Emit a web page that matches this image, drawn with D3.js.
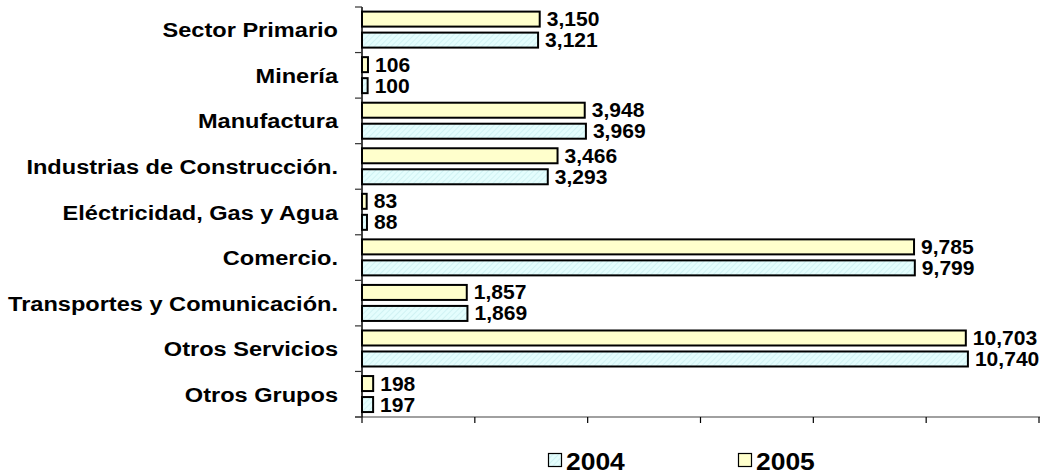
<!DOCTYPE html>
<html>
<head>
<meta charset="utf-8">
<script src="https://cdn.jsdelivr.net/npm/d3@7"></script>
<style>
  html, body { margin: 0; padding: 0; background: #fff; }
  svg { display: block; }
  text { font-family: "Liberation Sans", Arial, sans-serif; font-weight: bold; fill: #000; }
</style>
</head>
<body>
<script>
const categories = [
  "Sector Primario",
  "Minería",
  "Manufactura",
  "Industrias de Construcción.",
  "Eléctricidad, Gas y Agua",
  "Comercio.",
  "Transportes y Comunicación.",
  "Otros Servicios",
  "Otros Grupos"
];
const values2004 = [3121, 100, 3969, 3293, 88, 9799, 1869, 10740, 197];
const values2005 = [3150, 106, 3948, 3466, 83, 9785, 1857, 10703, 198];
const seriesNames = ["2005", "2004"];
const legendOrder = ["2004", "2005"];
const xTicks = [0, 2000, 4000, 6000, 8000, 10000, 12000];

const W = 1044, H = 476;
const SX = 1.15; // horizontal stretch of the text

const svg = d3.select("body").append("svg").attr("width", W).attr("height", H);

const defs = svg.append("defs");
const pat = defs.append("pattern")
  .attr("id", "hatch")
  .attr("patternUnits", "userSpaceOnUse")
  .attr("width", 4).attr("height", 4)
  .attr("patternTransform", "rotate(45)");
pat.append("rect").attr("width", 4).attr("height", 4).attr("fill", "#E4FDFD");
pat.append("line").attr("x1", 0).attr("y1", 0).attr("x2", 0).attr("y2", 4)
  .attr("stroke", "#C0E9EC").attr("stroke-width", 1.1);

const fills = { "2004": "url(#hatch)", "2005": "#FFFFCC" };
const dataBy = { "2004": values2004, "2005": values2005 };

const x = d3.scaleLinear().domain([0, 12000]).range([362, 1039]);
const y0 = d3.scaleBand().domain(categories).range([7, 417]).padding(0);
const y1 = d3.scaleBand().domain(seriesNames).range([3.6, 41.6]).paddingInner(4 / 21).paddingOuter(0);

// X axis
const xAxisG = svg.append("g").attr("transform", "translate(0,417)");
xAxisG.append("line").attr("x1", 355).attr("x2", 1040).attr("y1", 0).attr("y2", 0)
  .attr("stroke", "#808080").attr("stroke-width", 1.5);
xAxisG.selectAll("line.tick").data(xTicks).enter().append("line")
  .attr("class", "tick")
  .attr("x1", d => x(d)).attr("x2", d => x(d))
  .attr("y1", 0).attr("y2", 6)
  .attr("stroke", "#000").attr("stroke-width", 1.2);

// Y axis
const yAxisG = svg.append("g");
yAxisG.append("line").attr("x1", 362).attr("x2", 362).attr("y1", 7).attr("y2", 417)
  .attr("stroke", "#000").attr("stroke-width", 1.5);
const bounds = categories.map(c => y0(c)).concat([y0.range()[1]]);
yAxisG.selectAll("line.tick").data(bounds).enter().append("line")
  .attr("class", "tick")
  .attr("x1", 355).attr("x2", 362)
  .attr("y1", d => d).attr("y2", d => d)
  .attr("stroke", "#333").attr("stroke-width", 1.2);

// Category labels
svg.append("g").selectAll("text").data(categories).enter().append("text")
  .attr("transform", d => `translate(338,${y0(d) + y0.bandwidth() / 2 + 7.5}) scale(${SX},1)`)
  .attr("text-anchor", "end")
  .style("font-size", "20.5px")
  .text(d => d);

// Bars
const groups = svg.append("g").selectAll("g").data(categories).enter().append("g")
  .attr("transform", d => `translate(0,${y0(d)})`);

const cells = groups.selectAll("g.cell")
  .data((c, i) => seriesNames.map(s => ({ s, v: dataBy[s][i] })))
  .enter().append("g").attr("class", "cell");

cells.append("rect")
  .attr("x", x(0))
  .attr("y", d => y1(d.s) + 1)
  .attr("width", d => x(d.v) - x(0))
  .attr("height", y1.bandwidth() - 2)
  .attr("fill", d => fills[d.s])
  .attr("stroke", "#000")
  .attr("stroke-width", 2);

const fmt = d3.format(",");
cells.append("text")
  .attr("transform", d => `translate(${x(d.v) + 7},${y1(d.s) + y1.bandwidth() / 2 + 7}) scale(1.08,1)`)
  .style("font-size", "19.5px")
  .text(d => fmt(d.v));

// Legend
const legX = { "2004": 548, "2005": 738 };
const leg = svg.append("g").selectAll("g").data(legendOrder).enter().append("g")
  .attr("transform", d => `translate(${legX[d]},453)`);
leg.append("rect").attr("x", 0.5).attr("y", 0.5).attr("width", 13).attr("height", 13)
  .attr("fill", d => fills[d]).attr("stroke", "#000").attr("stroke-width", 1.2);
leg.append("text")
  .attr("transform", `translate(18,17) scale(${SX},1)`)
  .style("font-size", "23px")
  .text(d => d);
</script>
</body>
</html>
